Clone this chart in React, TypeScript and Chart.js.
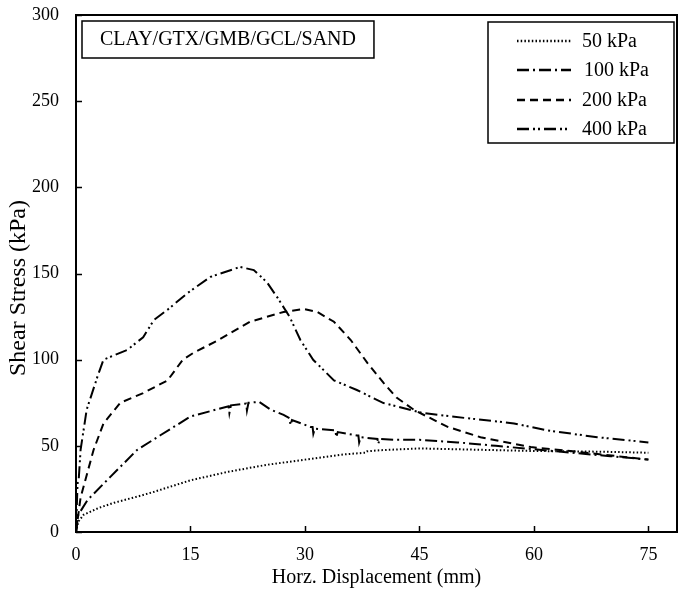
import React, { useEffect, useRef } from "react";
import { Chart, registerables } from "chart.js";

Chart.register(...registerables);

const FONT = "'Liberation Serif', 'Times New Roman', serif";

const xTicks = [0, 15, 30, 45, 60, 75];
const yTicks = [0, 50, 100, 150, 200, 250, 300];

const seriesLabels = ["50 kPa", "100 kPa", "200 kPa", "400 kPa"];
const seriesDash = [[1.5, 2.2], [12, 4, 2, 4], [8, 5], [12, 4, 2, 3, 2, 4]];
const annotationText = "CLAY/GTX/GMB/GCL/SAND";
const yTitle = "Shear Stress (kPa)";

const x50 = [0, 0.3, 1, 3, 5, 8, 10, 15, 20, 25, 30, 35, 37.9, 38.1, 40, 45, 50, 55, 60, 65, 70, 75];
const y50 = [0, 6, 10, 14, 17, 20.5, 23, 30, 35, 39, 42, 45, 46, 46.8, 47.5, 48.5, 48, 47.5, 47, 46.8, 46.5, 46];

const x100 = [0, 0.3, 1.5, 4.5, 8, 11, 15, 17.5, 20, 20.1, 20.3, 22.3, 22.4, 22.6, 24, 25.5, 27.2, 28, 28.1, 28.3, 30.7, 31, 31.1, 31.3, 33.8, 34, 34.1, 34.3, 36.8, 37, 37.1, 37.3, 39.5, 39.6, 39.8, 42, 45, 50, 55, 60, 65, 70, 75];
const y100 = [0, 10, 18.5, 32, 47.6, 56, 67, 70, 73, 69, 73.5, 74.5, 70.5, 75, 75.5, 71, 68, 66, 62, 65, 61, 61, 57, 60, 59, 59, 55, 58, 56, 56, 52, 55, 54, 51, 54, 53.5, 53.5, 52, 50, 48, 46, 44, 42];

const x200 = [0, 0.6, 2.3, 3.6, 5.8, 8.8, 12, 14, 15.4, 18.5, 22.8, 27.2, 29.8, 31.6, 33.8, 36, 38.2, 40.3, 42, 44.3, 48.7, 53, 59.6, 66, 75];
const y200 = [0, 20, 47.6, 63, 75, 80.6, 88, 100, 104, 111, 122, 127.7, 129.4, 127.7, 122, 111.4, 98, 86.5, 78, 70.8, 61, 55, 49.3, 46.4, 42];

const x400 = [0, 0.2, 0.35, 0.6, 1.4, 2.8, 3.6, 6.7, 8.8, 10.2, 12, 14.6, 17.6, 21.5, 23.3, 25, 26.4, 28, 29.4, 31.1, 33.8, 36.8, 40.3, 45.5, 51.3, 57.4, 61.7, 68.3, 75];
const y400 = [0, 28, 30, 47.6, 71, 90, 100, 105.6, 113, 123, 129, 138.6, 148, 153.8, 152, 145, 136, 124.8, 111.4, 99.8, 88, 82.4, 74.8, 69, 66, 63, 59, 55, 52];

const xs = [x50, x100, x200, x400];
const ys = [y50, y100, y200, y400];

const framePlugin = {
  id: "framePlugin",
  afterDraw(chart: any) {
    const { ctx, chartArea } = chart;
    const { left, right, top, bottom } = chartArea;
    const xs_ = chart.scales.x;
    const ys_ = chart.scales.y;
    ctx.save();
    ctx.strokeStyle = "#000";
    ctx.lineWidth = 2;
    ctx.setLineDash([]);
    ctx.strokeRect(left, top, right - left, bottom - top);
    ctx.lineWidth = 1.5;
    ctx.beginPath();
    for (const v of xTicks) {
      const px = Math.round(xs_.getPixelForValue(v)) + 0.5;
      ctx.moveTo(px, bottom);
      ctx.lineTo(px, bottom - 6);
    }
    for (const v of yTicks) {
      const py = Math.round(ys_.getPixelForValue(v)) + 0.5;
      ctx.moveTo(left, py);
      ctx.lineTo(left + 6, py);
    }
    ctx.stroke();

    // y title
    ctx.save();
    ctx.fillStyle = "#000";
    ctx.font = `24px ${FONT}`;
    ctx.textAlign = "center";
    ctx.textBaseline = "middle";
    ctx.translate(19, 288);
    ctx.rotate(-Math.PI / 2);
    ctx.fillText(yTitle, 0, 0);
    ctx.restore();

    // annotation box
    ctx.font = `20px ${FONT}`;
    const tw = ctx.measureText(annotationText).width;
    const bx = 82;
    const bw = tw + 36;
    ctx.lineWidth = 1.5;
    ctx.fillStyle = "#fff";
    ctx.fillRect(bx, 21, bw, 37);
    ctx.strokeRect(bx, 21, bw, 37);
    ctx.fillStyle = "#000";
    ctx.textAlign = "left";
    ctx.textBaseline = "middle";
    ctx.fillText(annotationText, bx + 18, 40);

    // legend
    ctx.fillStyle = "#fff";
    ctx.fillRect(488, 22, 186, 121);
    ctx.strokeRect(488, 22, 186, 121);
    const rows = [41, 70, 100, 129];
    for (let i = 0; i < seriesLabels.length; i++) {
      ctx.save();
      ctx.lineWidth = 2.5;
      ctx.setLineDash(seriesDash[i]);
      ctx.beginPath();
      ctx.moveTo(517, rows[i]);
      ctx.lineTo(571, rows[i]);
      ctx.stroke();
      ctx.restore();
      ctx.fillStyle = "#000";
      ctx.fillText(seriesLabels[i], i === 1 ? 584 : 582, rows[i] + 1);
    }
    ctx.restore();
  },
};

export default function App() {
  const ref = useRef<HTMLCanvasElement | null>(null);
  useEffect(() => {
    if (!ref.current) return;
    const datasets = seriesLabels.map((label, i) => ({
      label,
      data: xs[i].map((x, j) => ({ x, y: ys[i][j] })),
      borderColor: "#000",
      borderWidth: 2,
      borderDash: seriesDash[i],
      pointRadius: 0,
      fill: false,
      tension: 0,
    }));
    const chart = new Chart(ref.current, {
      type: "line",
      data: { datasets },
      options: {
        animation: false,
        responsive: false,
        maintainAspectRatio: false,
        layout: { padding: { top: 15, right: 2, left: 0, bottom: 0 } },
        plugins: { legend: { display: false }, tooltip: { enabled: false } },
        scales: {
          x: {
            type: "linear",
            min: 0,
            max: 78.75,
            grid: { display: false, drawTicks: false },
            border: { display: false },
            afterBuildTicks: (s: any) => {
              s.ticks = xTicks.map((v) => ({ value: v }));
            },
            afterFit: (s: any) => {
              s.height = 61;
              s.paddingLeft = 0;
              s.paddingRight = 0;
            },
            ticks: { color: "#000", font: { family: FONT, size: 18 }, padding: 12, maxRotation: 0 },
            title: {
              display: true,
              text: "Horz. Displacement (mm)",
              color: "#000",
              font: { family: FONT, size: 20 },
              padding: { top: 0, bottom: 3 },
            },
          },
          y: {
            type: "linear",
            min: 0,
            max: 300,
            grid: { display: false, drawTicks: false },
            border: { display: false },
            afterBuildTicks: (s: any) => {
              s.ticks = yTicks.map((v) => ({ value: v }));
            },
            afterFit: (s: any) => {
              s.width = 76;
              s.paddingTop = 0;
              s.paddingBottom = 0;
            },
            ticks: { color: "#000", font: { family: FONT, size: 18 }, padding: 17 },
            title: { display: false },
          },
        },
      },
      plugins: [framePlugin],
    });
    return () => chart.destroy();
  }, []);
  return (
    <div style={{ position: "fixed", left: 0, top: 0, width: 679, height: 593, background: "#fff" }}>
      <canvas ref={ref} width={679} height={593} style={{ width: 679, height: 593 }} />
    </div>
  );
}
